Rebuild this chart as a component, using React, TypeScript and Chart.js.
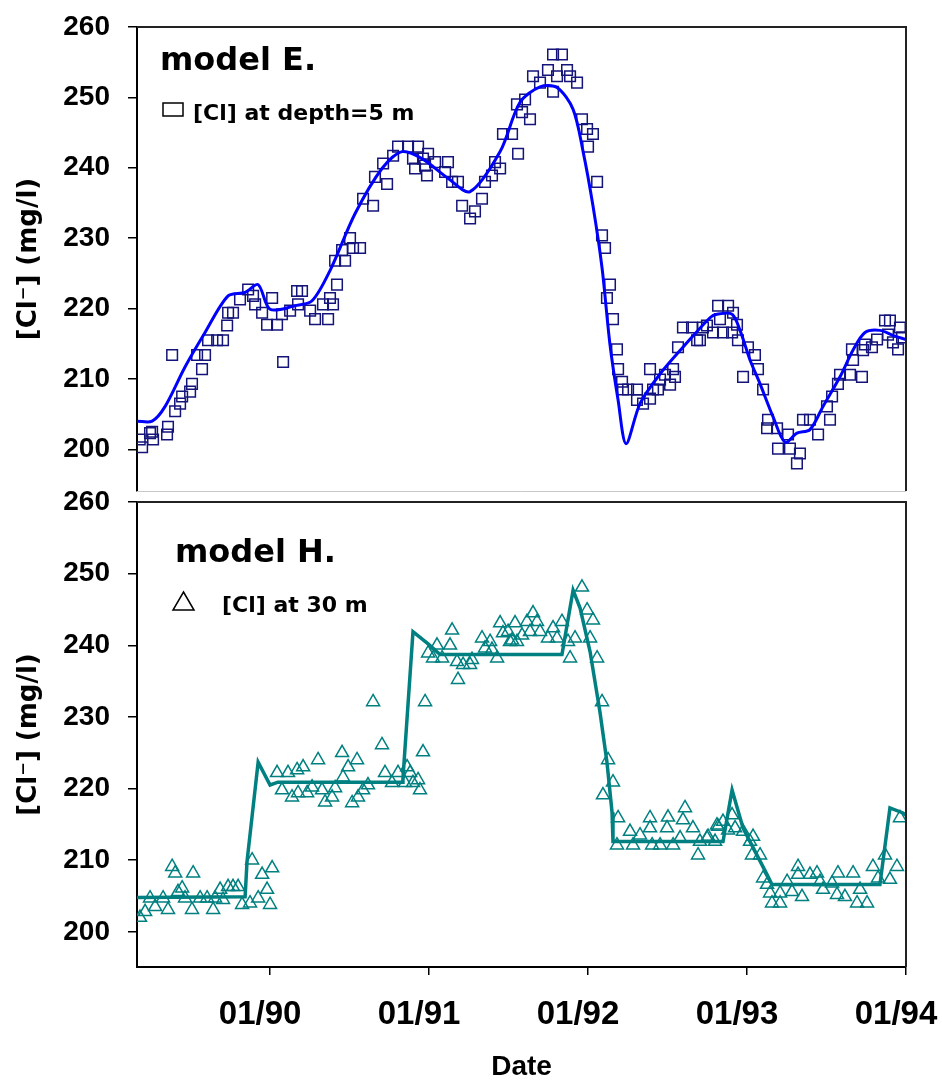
import React, { useEffect, useRef } from 'react';
import { Chart, registerables } from 'chart.js';

Chart.register(...registerables);

// ---------- axis definitions ----------
const X_MIN = 1989.163;
const X_MAX = 1994.0;
const xTickValues = [1990, 1991, 1992, 1993, 1994];
const xTickLabels = ['01/90', '01/91', '01/92', '01/93', '01/94'];
const yTickValues = [200, 210, 220, 230, 240, 250, 260];
const topYRange = [194.08, 260];
const bottomYRange = [195.1, 260];

// ---------- panel texts ----------
const yAxisTitle = '[Cl\u207B] (mg/l)';
const xAxisTitle = 'Date';
const topTitle = 'model E.';
const topLegend = '[Cl] at depth=5 m';
const bottomTitle = 'model H.';
const bottomLegend = '[Cl] at 30 m';

// ---------- model E. (depth 5 m) : fitted model line ----------
const topModel: [number, number][] = [
  [1989.163, 204.0], [1989.258, 204.0], [1989.34, 206.1], [1989.465, 211.7],
  [1989.591, 216.6], [1989.736, 221.8], [1989.843, 222.3], [1989.925, 223.4],
  [1990.0, 219.9], [1990.157, 220.4], [1990.264, 221.1], [1990.377, 225.4],
  [1990.535, 233.5], [1990.704, 239.9], [1990.83, 242.3], [1990.956, 241.3],
  [1991.119, 238.5], [1991.258, 236.6], [1991.447, 242.3], [1991.572, 249.3],
  [1991.698, 251.5], [1991.805, 251.4], [1991.906, 248.3], [1991.969, 242.3],
  [1992.031, 234.6], [1992.088, 225.8], [1992.138, 214.9], [1992.189, 207.0],
  [1992.239, 200.8], [1992.327, 206.5], [1992.453, 210.7], [1992.597, 214.5],
  [1992.767, 218.7], [1992.811, 219.2], [1992.906, 219.2], [1992.956, 216.9],
  [1993.019, 212.7], [1993.082, 209.3], [1993.164, 204.6], [1993.239, 201.0],
  [1993.314, 202.3], [1993.396, 202.8], [1993.478, 206.1], [1993.585, 210.3],
  [1993.667, 214.1], [1993.742, 216.6], [1993.836, 216.9], [1993.918, 216.2],
  [1994.0, 215.6],
];

// ---------- model E. : observed [Cl] at depth 5 m ----------
const topObs: [number, number][] = [
  [1989.18, 201.4], [1989.195, 200.3], [1989.245, 202.3], [1989.258, 202.5],
  [1989.264, 201.4], [1989.352, 202.1], [1989.358, 203.2], [1989.384, 213.4],
  [1989.403, 205.4], [1989.434, 206.5], [1989.447, 207.5], [1989.497, 208.2],
  [1989.509, 209.3], [1989.541, 213.4], [1989.572, 211.4], [1989.591, 213.4],
  [1989.61, 215.5], [1989.667, 215.5], [1989.704, 215.5], [1989.73, 217.6],
  [1989.736, 219.4], [1989.767, 219.4], [1989.811, 221.3], [1989.862, 222.7],
  [1989.893, 221.8], [1989.906, 220.6], [1989.95, 219.4], [1989.981, 217.7],
  [1990.013, 221.5], [1990.044, 217.7], [1990.075, 219.2], [1990.082, 212.4],
  [1990.126, 219.7], [1990.17, 222.5], [1990.176, 220.6], [1990.201, 222.5],
  [1990.252, 219.7], [1990.283, 218.5], [1990.333, 220.6], [1990.365, 218.5],
  [1990.377, 221.5], [1990.396, 220.6], [1990.409, 226.8], [1990.421, 223.4],
  [1990.453, 228.3], [1990.472, 226.8], [1990.503, 230.0], [1990.522, 228.6],
  [1990.566, 228.6], [1990.585, 235.6], [1990.648, 234.6], [1990.66, 238.7],
  [1990.711, 240.6], [1990.736, 237.7], [1990.774, 241.7], [1990.805, 243.0],
  [1990.868, 243.0], [1990.899, 241.3], [1990.912, 239.9], [1990.931, 243.0],
  [1990.962, 241.3], [1990.975, 240.3], [1990.987, 238.9], [1990.994, 242.0],
  [1991.038, 240.8], [1991.101, 239.4], [1991.119, 240.8], [1991.145, 238.0],
  [1991.182, 238.0], [1991.208, 234.6], [1991.258, 232.8], [1991.289, 233.8],
  [1991.333, 235.6], [1991.352, 238.0], [1991.396, 238.9], [1991.415, 240.8],
  [1991.447, 239.9], [1991.465, 244.8], [1991.522, 244.8], [1991.553, 249.0],
  [1991.56, 242.0], [1991.585, 247.9], [1991.604, 249.7], [1991.635, 246.9],
  [1991.654, 253.0], [1991.698, 252.1], [1991.748, 253.9], [1991.78, 256.1],
  [1991.78, 250.8], [1991.805, 253.0], [1991.836, 256.1], [1991.868, 253.9],
  [1991.887, 253.0], [1991.931, 252.1], [1991.962, 246.9], [1991.994, 245.5],
  [1992.0, 243.0], [1992.031, 244.8], [1992.057, 238.0], [1992.088, 230.4],
  [1992.107, 228.6], [1992.119, 221.5], [1992.138, 223.4], [1992.157, 218.5],
  [1992.182, 214.2], [1992.189, 211.4], [1992.214, 209.6], [1992.22, 208.5],
  [1992.252, 208.5], [1992.308, 208.5], [1992.308, 207.0], [1992.346, 206.5],
  [1992.39, 207.2], [1992.39, 211.4], [1992.409, 208.5], [1992.44, 208.5],
  [1992.453, 209.9], [1992.484, 210.6], [1992.516, 209.2], [1992.535, 211.4],
  [1992.547, 210.3], [1992.566, 214.5], [1992.597, 217.3], [1992.654, 217.3],
  [1992.686, 215.5], [1992.704, 215.5], [1992.723, 217.3], [1992.748, 217.6],
  [1992.786, 216.6], [1992.818, 220.4], [1992.83, 218.5], [1992.849, 216.6],
  [1992.881, 220.4], [1992.906, 216.6], [1992.912, 219.4], [1992.937, 217.7],
  [1992.943, 215.5], [1992.975, 210.3], [1993.006, 214.5], [1993.05, 213.4],
  [1993.069, 211.4], [1993.101, 208.5], [1993.126, 203.0], [1993.132, 204.2],
  [1993.189, 203.0], [1993.195, 200.1], [1993.258, 202.1], [1993.27, 200.1],
  [1993.314, 198.0], [1993.333, 199.4], [1993.352, 204.2], [1993.396, 204.2],
  [1993.447, 202.1], [1993.503, 206.1], [1993.522, 204.2], [1993.535, 207.5],
  [1993.572, 209.3], [1993.585, 210.6], [1993.648, 210.6], [1993.66, 214.2],
  [1993.667, 212.7], [1993.723, 210.3], [1993.73, 214.1], [1993.742, 214.9],
  [1993.786, 214.5], [1993.818, 215.6], [1993.868, 218.3], [1993.887, 216.3],
  [1993.899, 218.3], [1993.918, 215.2], [1993.95, 214.2], [1993.962, 217.3],
  [1993.975, 215.9],
];

// ---------- model H. (30 m) : model line ----------
const bottomModel: [number, number][] = [
  [1989.163, 204.8], [1989.843, 204.9], [1989.855, 209.8], [1989.925, 223.7],
  [1990.0, 220.5], [1990.05, 220.9], [1990.83, 220.9], [1990.836, 221.5],
  [1990.899, 241.9], [1990.994, 240.2], [1991.069, 238.7], [1991.836, 238.7],
  [1991.906, 247.7], [1991.95, 245.2], [1992.013, 239.1], [1992.075, 230.7],
  [1992.119, 223.7], [1992.151, 216.7], [1992.157, 212.6], [1992.849, 212.6],
  [1992.906, 219.8], [1992.975, 214.5], [1993.019, 212.6], [1993.126, 208.0],
  [1993.157, 206.6], [1993.836, 206.6], [1993.899, 217.3], [1993.981, 216.6],
  [1994.0, 216.3],
];

// ---------- model H. : observed [Cl] at 30 m ----------
const bottomObs: [number, number][] = [
  [1989.182, 202.0], [1989.214, 202.8], [1989.245, 204.7], [1989.277, 203.5],
  [1989.327, 204.7], [1989.358, 203.1], [1989.384, 209.1], [1989.403, 208.2],
  [1989.421, 205.6], [1989.447, 206.1], [1989.465, 204.7], [1989.509, 203.1],
  [1989.516, 208.2], [1989.56, 204.7], [1989.604, 204.7], [1989.642, 203.1],
  [1989.654, 204.7], [1989.686, 205.9], [1989.704, 204.5], [1989.736, 206.3],
  [1989.767, 206.3], [1989.799, 206.3], [1989.824, 203.8], [1989.874, 204.0],
  [1989.887, 210.0], [1989.925, 204.7], [1989.95, 208.0], [1989.981, 205.9],
  [1990.0, 203.8], [1990.013, 208.9],
  [1990.044, 222.2], [1990.075, 219.8], [1990.113, 222.2], [1990.138, 218.8],
  [1990.17, 222.6], [1990.176, 219.4], [1990.208, 223.0], [1990.233, 219.4],
  [1990.264, 220.2], [1990.302, 224.0], [1990.327, 219.8], [1990.346, 218.1],
  [1990.39, 218.8], [1990.409, 220.1], [1990.453, 225.0], [1990.459, 221.6],
  [1990.491, 223.0], [1990.516, 218.0], [1990.547, 224.0], [1990.553, 218.8],
  [1990.585, 219.8], [1990.616, 220.5], [1990.648, 232.1], [1990.704, 226.1],
  [1990.723, 222.2], [1990.767, 220.8], [1990.805, 222.2], [1990.849, 220.8],
  [1990.862, 223.0], [1990.881, 222.2], [1990.899, 220.8], [1990.931, 221.2],
  [1990.943, 219.8], [1990.962, 225.1], [1990.975, 232.1],
  [1990.994, 238.9], [1991.025, 238.2], [1991.05, 240.0], [1991.082, 238.2],
  [1991.132, 240.0], [1991.145, 242.1], [1991.176, 237.7], [1991.182, 235.2],
  [1991.214, 237.3], [1991.258, 237.3], [1991.27, 238.0], [1991.333, 241.0],
  [1991.352, 239.6], [1991.384, 240.5], [1991.396, 239.4], [1991.428, 238.2],
  [1991.447, 243.1], [1991.465, 241.7], [1991.497, 241.9], [1991.509, 240.5],
  [1991.522, 240.7], [1991.541, 243.1], [1991.553, 240.5], [1991.585, 241.4],
  [1991.616, 243.3], [1991.635, 241.9], [1991.654, 244.5], [1991.679, 243.3],
  [1991.698, 241.9], [1991.748, 241.0], [1991.78, 242.4], [1991.805, 241.0],
  [1991.836, 243.3], [1991.874, 240.5], [1991.887, 238.2], [1991.918, 241.0],
  [1991.962, 248.1], [1991.994, 244.9], [1992.013, 241.0], [1992.031, 243.5],
  [1992.057, 238.2], [1992.088, 232.1], [1992.094, 219.1], [1992.126, 224.0],
  [1992.157, 220.9], [1992.182, 212.1], [1992.189, 215.9], [1992.264, 214.0],
  [1992.283, 212.1], [1992.327, 213.5], [1992.39, 215.9], [1992.39, 214.5],
  [1992.403, 212.1], [1992.453, 212.1], [1992.497, 214.5], [1992.503, 216.0],
  [1992.535, 212.1], [1992.579, 213.1], [1992.597, 215.6], [1992.61, 217.3],
  [1992.66, 214.5], [1992.692, 210.7], [1992.704, 212.6], [1992.748, 213.1],
  [1992.755, 213.3], [1992.799, 212.6], [1992.811, 214.9], [1992.818, 214.7],
  [1992.849, 215.4], [1992.881, 214.2], [1992.906, 216.3], [1992.925, 214.5],
  [1992.975, 214.0], [1993.019, 212.6], [1993.031, 210.7], [1993.038, 213.3],
  [1993.082, 210.7], [1993.101, 207.5], [1993.126, 206.6], [1993.145, 205.4],
  [1993.157, 204.0], [1993.208, 205.4], [1993.208, 204.0], [1993.252, 207.0],
  [1993.283, 205.6], [1993.321, 209.1], [1993.321, 208.0], [1993.346, 204.9],
  [1993.396, 208.0], [1993.44, 208.2], [1993.459, 207.0], [1993.478, 205.9],
  [1993.535, 206.8], [1993.566, 205.2], [1993.572, 208.2], [1993.616, 204.9],
  [1993.667, 208.2], [1993.692, 204.0], [1993.711, 205.9], [1993.755, 204.0],
  [1993.792, 209.1], [1993.824, 207.5], [1993.868, 210.7], [1993.899, 207.3],
  [1993.943, 209.1], [1993.962, 215.9],
];

// ---------- styling ----------
const ARIAL = '"Liberation Sans", Arial, sans-serif';
const DEJAVU = '"DejaVu Sans", "Liberation Sans", sans-serif';

const toXY = (arr: [number, number][]) => arr.map(([x, y]) => ({ x, y }));

function decorPlugin(cfg: any) {
  return {
    id: 'panelDecor',
    afterDraw(chart: any) {
      const { ctx } = chart;
      const { left, top, right, bottom } = chart.chartArea;
      ctx.save();
      // frame (top + right), optional faint bottom
      ctx.strokeStyle = '#222';
      ctx.lineWidth = 2;
      ctx.beginPath();
      ctx.moveTo(left, top);
      ctx.lineTo(right, top);
      ctx.lineTo(right, bottom);
      ctx.stroke();
      if (cfg.faintBottom) {
        ctx.strokeStyle = '#c8c8c8';
        ctx.lineWidth = 1;
        ctx.beginPath();
        ctx.moveTo(left, bottom + 0.5);
        ctx.lineTo(right, bottom + 0.5);
        ctx.stroke();
      }
      // panel title
      ctx.fillStyle = '#000';
      ctx.textAlign = 'left';
      ctx.textBaseline = 'alphabetic';
      ctx.font = `bold 32px ${DEJAVU}`;
      ctx.fillText(cfg.title, left + cfg.titleDx, top + cfg.titleDy);
      // legend marker
      ctx.strokeStyle = '#000';
      ctx.lineWidth = 1.5;
      if (cfg.marker === 'rect') {
        ctx.strokeRect(left + 26, top + 76, 20, 13);
      } else {
        ctx.beginPath();
        ctx.moveTo(left + 46.5, top + 90);
        ctx.lineTo(left + 57, top + 108);
        ctx.lineTo(left + 36, top + 108);
        ctx.closePath();
        ctx.stroke();
      }
      // legend text
      ctx.font = `bold 22px ${DEJAVU}`;
      ctx.fillText(cfg.legend, left + cfg.legendDx, top + cfg.legendDy);
      ctx.restore();
    },
  };
}

function yScale(range: number[]) {
  return {
    type: 'linear',
    min: range[0],
    max: range[1],
    afterBuildTicks: (axis: any) => {
      axis.ticks = yTickValues.map((v) => ({ value: v }));
    },
    afterFit: (scale: any) => {
      scale.width = 137;
      scale.paddingTop = 0;
      scale.paddingBottom = 0;
    },
    ticks: {
      color: '#000',
      padding: 18,
      font: { family: ARIAL, size: 28, weight: 'bold' },
    },
    grid: {
      drawOnChartArea: false,
      drawTicks: true,
      tickLength: 9,
      color: '#000',
      lineWidth: 1.5,
    },
    border: { display: true, color: '#000', width: 2 },
    title: {
      display: true,
      text: yAxisTitle,
      color: '#000',
      font: { family: DEJAVU, size: 26, weight: 'bold' },
      padding: { top: 14, bottom: 0 },
    },
  };
}

function buildTop(canvas: HTMLCanvasElement) {
  return new Chart(canvas, {
    type: 'scatter',
    data: {
      datasets: [
        {
          label: 'model',
          data: toXY(topModel),
          showLine: true,
          borderColor: '#0000FF',
          backgroundColor: '#0000FF',
          borderWidth: 3,
          pointRadius: 0,
          tension: 0.3,
        },
        {
          label: topLegend,
          data: toXY(topObs),
          showLine: false,
          pointStyle: 'rect',
          pointRadius: 7.5,
          borderColor: '#14147a',
          backgroundColor: 'rgba(0,0,0,0)',
          borderWidth: 1.5,
        },
      ],
    },
    options: {
      animation: false,
      responsive: false,
      devicePixelRatio: 1,
      layout: { padding: { top: 27, right: 36, bottom: 5, left: 0 } },
      plugins: { legend: { display: false }, tooltip: { enabled: false } },
      scales: {
        x: { type: 'linear', min: X_MIN, max: X_MAX, display: false },
        y: yScale(topYRange),
      },
    } as any,
    plugins: [
      decorPlugin({
        title: topTitle,
        titleDx: 23,
        titleDy: 43,
        marker: 'rect',
        legend: topLegend,
        legendDx: 56,
        legendDy: 93,
        faintBottom: true,
      }),
    ],
  } as any);
}

function buildBottom(canvas: HTMLCanvasElement) {
  return new Chart(canvas, {
    type: 'scatter',
    data: {
      datasets: [
        {
          label: 'model',
          data: toXY(bottomModel),
          showLine: true,
          borderColor: '#008080',
          backgroundColor: '#008080',
          borderWidth: 3.5,
          pointRadius: 0,
          tension: 0,
        },
        {
          label: bottomLegend,
          data: toXY(bottomObs),
          showLine: false,
          pointStyle: 'triangle',
          pointRadius: 7.5,
          borderColor: '#008080',
          backgroundColor: 'rgba(0,0,0,0)',
          borderWidth: 1.5,
        },
      ],
    },
    options: {
      animation: false,
      responsive: false,
      devicePixelRatio: 1,
      layout: { padding: { top: 26, right: 36, bottom: 0, left: 0 } },
      plugins: { legend: { display: false }, tooltip: { enabled: false } },
      scales: {
        x: {
          type: 'linear',
          min: X_MIN,
          max: X_MAX,
          afterBuildTicks: (axis: any) => {
            axis.ticks = xTickValues.map((v) => ({ value: v }));
          },
          afterFit: (scale: any) => {
            scale.height = 117;
            scale.paddingLeft = 0;
            scale.paddingRight = 0;
          },
          ticks: {
            color: '#000',
            padding: 20,
            labelOffset: -10,
            maxRotation: 0,
            autoSkip: false,
            font: { family: ARIAL, size: 33, weight: 'bold' },
            callback: (v: any) => {
              const i = xTickValues.indexOf(Number(v));
              return i >= 0 ? xTickLabels[i] : '';
            },
          },
          grid: {
            drawOnChartArea: false,
            drawTicks: true,
            tickLength: 8,
            color: '#000',
            lineWidth: 1.5,
          },
          border: { display: true, color: '#000', width: 2 },
          title: {
            display: true,
            text: xAxisTitle,
            color: '#000',
            font: { family: ARIAL, size: 28, weight: 'bold' },
            padding: { top: 0, bottom: 0 },
          },
        },
        y: yScale(bottomYRange),
      },
    } as any,
    plugins: [
      decorPlugin({
        title: bottomTitle,
        titleDx: 38,
        titleDy: 60,
        marker: 'triangle',
        legend: bottomLegend,
        legendDx: 85,
        legendDy: 110,
        faintBottom: false,
      }),
    ],
  } as any);
}

export default function App() {
  const topRef = useRef<HTMLCanvasElement | null>(null);
  const bottomRef = useRef<HTMLCanvasElement | null>(null);

  useEffect(() => {
    const top = topRef.current ? buildTop(topRef.current) : null;
    const bottom = bottomRef.current ? buildBottom(bottomRef.current) : null;
    return () => {
      if (top) top.destroy();
      if (bottom) bottom.destroy();
    };
  }, []);

  return (
    <div style={{ position: 'absolute', left: 0, top: 0, width: 942, height: 1084, background: '#fff' }}>
      <canvas
        ref={topRef}
        width={942}
        height={500}
        style={{ position: 'absolute', left: 0, top: 0, width: 942, height: 500 }}
      />
      <canvas
        ref={bottomRef}
        width={942}
        height={608}
        style={{ position: 'absolute', left: 0, top: 476, width: 942, height: 608 }}
      />
    </div>
  );
}
